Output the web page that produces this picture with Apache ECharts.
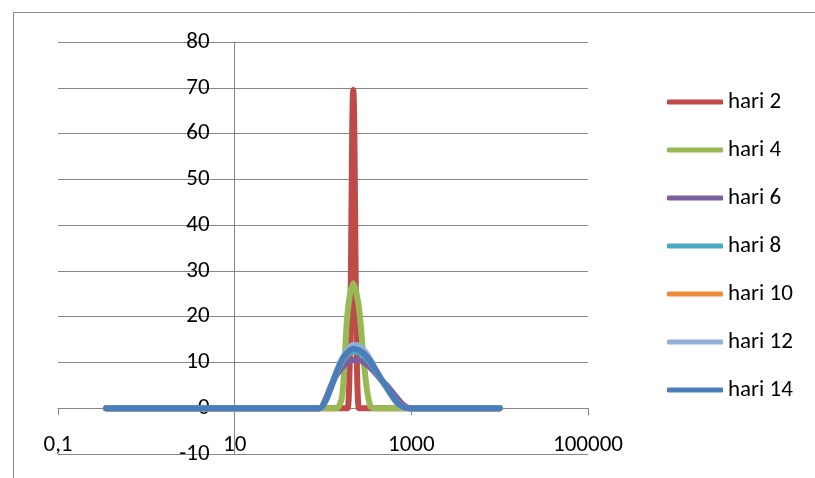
<!DOCTYPE html>
<html><head><meta charset="utf-8">
<script src="https://cdn.jsdelivr.net/npm/echarts@6/dist/echarts.min.js"></script>
<style>html,body{margin:0;padding:0;background:#fff}#c{width:815px;height:478px}</style>
</head><body><div id="c"></div>
<script>
// particle size bins (x values, log axis)
const sizes = [0.35, 91.28, 105.7, 122.4, 141.8, 164.2, 190.1, 220.2, 255.0, 295.3, 342.0, 396.1, 458.7, 531.2, 615.1, 712.4, 825.0, 955.4, 10000];
const seriesNames = ['hari 2', 'hari 4', 'hari 6', 'hari 8', 'hari 10', 'hari 12', 'hari 14'];
const hari2  = [0, 0, 0,   0,   0,   0,    0,    69.5, 0,    0,    0,    0,   0,   0,   0,   0,   0,   0, 0];
const hari4  = [0, 0, 0,   0,   0,   2.5,  21,   27.3, 22,   8.5,  0.5,  0,   0,   0,   0,   0,   0,   0, 0];
const hari6  = [0, 0, 1.8, 4.8, 7.2, 8.9,  10.0, 10.6, 10.5, 9.9,  8.9,  7.6, 6.1, 4.9, 3.4, 1.9, 0.6, 0, 0];
const hari8  = [0, 0, 1.4, 4.4, 7.6, 10.1, 11.7, 12.4, 12.2, 11.3, 9.9,  8.1, 6.2, 4.4, 2.6, 1.0, 0.2, 0, 0];
const hari10 = [0, 0, 1.5, 4.5, 7.8, 10.4, 12.2, 13.2, 13.0, 12.0, 10.4, 8.3, 6.2, 4.4, 2.5, 1.0, 0.2, 0, 0];
const hari12 = [0, 0, 1.4, 4.4, 7.9, 10.8, 12.8, 13.8, 13.6, 12.5, 10.7, 8.4, 6.2, 4.3, 2.4, 0.9, 0.1, 0, 0];
const hari14 = [0, 0, 1.5, 4.5, 7.8, 10.5, 12.2, 13.0, 12.7, 11.8, 10.3, 8.3, 6.3, 4.5, 2.6, 1.0, 0.2, 0, 0];
const xTickValues = [0.1, 10, 1000, 100000];
const xTickLabels = ['0,1', '10', '1000', '100000'];
const yMin = -10, yMax = 80, yStep = 10;
const watermarkLetters = ['I', 'S', 'L', 'A', 'M'];

const colors = ['#BE4B48', '#98B954', '#7D5FA0', '#46AAC5', '#F08C3C', '#94AFD6', '#4A7EBB'];
const allValues = [hari2, hari4, hari6, hari8, hari10, hari12, hari14];
const FONT = "Carlito, 'Liberation Sans', sans-serif";
const GRID = { left: 58, right: 227, top: 42, bottom: 24 };
const wmX = [219, 262, 365, 435, 545];

const chart = echarts.init(document.getElementById('c'), null, { renderer: 'canvas' });
chart.setOption({
  animation: false,
  color: colors,
  graphic: [{
    type: 'rect', silent: true, z: -10,
    shape: { x: 13.5, y: 12.5, width: 900, height: 600 },
    style: { fill: 'none', stroke: '#888888', lineWidth: 1 }
  }].concat(watermarkLetters.map(function (ch, i) {
    return {
      type: 'text', silent: true, z: -20,
      style: { x: wmX[i], y: 478, text: ch, font: "110px 'Liberation Sans', sans-serif", fill: '#F1F1F1', textBaseline: 'alphabetic' }
    };
  })),
  grid: Object.assign({ outerBoundsMode: 'none', containLabel: false }, GRID),
  legend: {
    orient: 'vertical', left: 667, top: 90, padding: 0,
    itemWidth: 56, itemHeight: 5, itemGap: 24, icon: 'roundRect',
    textStyle: { fontSize: 23, lineHeight: 24, color: '#000', fontFamily: FONT },
    data: seriesNames
  },
  xAxis: {
    type: 'log', logBase: 10, min: 0.1, max: 100000,
    position: 'bottom',
    axisLine: { show: true, onZero: false, lineStyle: { color: '#868686', width: 1 } },
    axisTick: { show: true, length: 7, inside: false, customValues: xTickValues, lineStyle: { color: '#868686' } },
    minorTick: { show: false },
    splitLine: { show: false },
    axisLabel: {
      margin: 26, fontSize: 23, color: '#000', fontFamily: FONT,
      customValues: xTickValues,
      formatter: function (v) {
        let best = 0;
        xTickValues.forEach(function (t, i) { if (Math.abs(Math.log10(t) - Math.log10(v)) < Math.abs(Math.log10(xTickValues[best]) - Math.log10(v))) best = i; });
        return xTickLabels[best];
      }
    }
  },
  yAxis: {
    type: 'value', min: yMin, max: yMax, interval: yStep,
    axisLine: { show: true, onZero: false, lineStyle: { color: '#868686', width: 1 } },
    axisTick: { show: false },
    splitLine: { show: true, lineStyle: { color: '#868686', width: 1 } },
    axisLabel: { margin: 25, fontSize: 23, color: '#000', fontFamily: FONT }
  },
  series: seriesNames.map(function (name, i) {
    return {
      name: name, type: 'line', smooth: 0.33, symbol: 'none',
      lineStyle: { width: 6, cap: 'round', join: 'round' },
      data: sizes.map(function (x, j) { return [x, allValues[i][j]]; })
    };
  })
});
// vertical axis crosses at x = 10; horizontal axis crosses at y = 0
const crossX = chart.convertToPixel({ xAxisIndex: 0 }, 10);
const crossY = chart.convertToPixel({ yAxisIndex: 0 }, 0);
const chartH = chart.getHeight();
chart.setOption({
  yAxis: { offset: -(crossX - GRID.left) },
  xAxis: { offset: -((chartH - GRID.bottom) - crossY) }
});
</script>
</body></html>
